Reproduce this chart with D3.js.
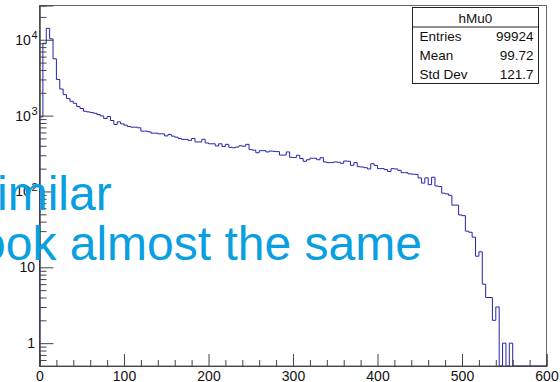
<!DOCTYPE html>
<html>
<head>
<meta charset="utf-8">
<script src="https://cdn.jsdelivr.net/npm/d3@7"></script>
<style>
  html, body { margin: 0; padding: 0; background: #fff; }
  svg { display: block; }
</style>
</head>
<body>
<script>
// Histogram hMu0: 150 bins of width 4 over [0, 600]
const binLow = 0;
const binHigh = 600;
const binWidth = 4;
const counts = [
  960, 9000, 14150, 10280, 5610, 3000, 2240, 1890, 1676, 1545,
  1455, 1316, 1240, 1142, 1119, 1097, 1074, 1032, 990, 916,
  973, 862, 765, 827, 778, 748, 719, 704, 704, 690,
  624, 624, 611, 587, 587, 575, 575, 540, 565, 537,
  520, 500, 486, 486, 471, 500, 450, 450, 488, 436,
  425, 425, 398, 425, 392, 418, 382, 377, 385, 400,
  395, 418, 356, 350, 324, 345, 345, 332, 341, 338,
  335, 302, 302, 332, 282, 280, 300, 272, 250, 262,
  274, 274, 262, 279, 245, 240, 240, 245, 243, 235,
  252, 250, 221, 240, 212, 210, 206, 198, 232, 221,
  200, 200, 194, 183, 200, 198, 190, 177, 177, 171,
  169, 168, 151, 129, 151, 123, 154, 118, 116, 95,
  93, 89, 66, 66, 49, 48, 30, 29, 25, 14,
  16, 6, 4, 4, 2, 3, 0, 1, 0, 1,
  0, 0, 0, 0, 0, 0, 0, 0, 0, 0
];

const xTickValues = [0, 100, 200, 300, 400, 500, 600];
const xMinorStep = 20;
const yTickValues = [1, 10, 100, 1000, 10000];
const yTickLabels = [["1", ""], ["10", ""], ["10", "2"], ["10", "3"], ["10", "4"]];

const statsTitle = "hMu0";
const statsLabels = ["Entries", "Mean", "Std Dev"];
const statsValues = ["99924", "99.72", "121.7"];

const noteLines = ["imilar", "ook almost the same"];

// ---- layout ----
const W = 560, H = 382;
const frame = { left: 39.5, right: 546.5, top: 5.5, bottom: 366 };

const svg = d3.select("body").append("svg")
  .attr("width", W).attr("height", H)
  .attr("viewBox", `0 0 ${W} ${H}`);

const x = d3.scaleLinear().domain([binLow, binHigh]).range([frame.left, frame.right]);
const yMin = 0.5;
const yMax = d3.max(counts) * 2;
const y = d3.scaleLog().domain([yMin, yMax]).range([frame.bottom, frame.top]);

const font = "'Liberation Sans', Arial, Helvetica, sans-serif";

// frame box
svg.append("rect")
  .attr("x", frame.left).attr("y", frame.top)
  .attr("width", frame.right - frame.left)
  .attr("height", frame.bottom - frame.top)
  .attr("fill", "none").attr("stroke", "#666").attr("stroke-width", 1);

// ---- histogram outline ----
const pts = [[x(binLow), y(yMin)]];
counts.forEach((c, i) => {
  const v = Math.max(c, yMin);
  const x0 = binLow + i * binWidth, x1 = x0 + binWidth;
  pts.push([x(x0), y(v)]);
  pts.push([x(x1), y(v)]);
});
pts.push([x(binHigh), y(yMin)]);

svg.append("path")
  .attr("d", d3.line()(pts))
  .attr("fill", "none")
  .attr("stroke", "#2424aa")
  .attr("stroke-width", 1);

// ---- x axis (ticks pointing into the frame) ----
const xMinor = d3.range(binLow, binHigh + 1, xMinorStep).filter(v => !xTickValues.includes(v));
const gxMinor = svg.append("g").attr("transform", `translate(0,${frame.bottom})`)
  .call(d3.axisBottom(x).tickValues(xMinor).tickSize(-6).tickFormat(""));
const gx = svg.append("g").attr("transform", `translate(0,${frame.bottom})`)
  .call(d3.axisBottom(x).tickValues(xTickValues).tickSize(-12).tickPadding(5).tickFormat(d3.format("d")));
[gx, gxMinor].forEach(g => {
  g.select(".domain").attr("stroke", "#444");
  g.selectAll(".tick line").attr("stroke", "#444");
});
gx.selectAll(".tick text")
  .attr("font-family", font).attr("font-size", 14).attr("fill", "#111");

// ---- y axis (log, ticks pointing into the frame) ----
const yMinor = [];
for (let e = -1; e <= 5; e++) {
  for (let m = 2; m <= 9; m++) {
    const v = m * Math.pow(10, e);
    if (v >= yMin && v <= yMax) yMinor.push(v);
  }
}
const gyMinor = svg.append("g").attr("transform", `translate(${frame.left},0)`)
  .call(d3.axisLeft(y).tickValues(yMinor).tickSize(-7).tickFormat(""));
const gy = svg.append("g").attr("transform", `translate(${frame.left},0)`)
  .call(d3.axisLeft(y).tickValues(yTickValues).tickSize(-14).tickFormat(""));
[gy, gyMinor].forEach(g => {
  g.select(".domain").attr("stroke", "#444");
  g.selectAll(".tick line").attr("stroke", "#444");
});

const yLab = svg.append("g").attr("font-family", font).attr("fill", "#111");
yTickValues.forEach((v, i) => {
  const [base, exp] = yTickLabels[i];
  const t = yLab.append("text")
    .attr("x", exp ? 37.5 : 35)
    .attr("y", y(v) + 5)
    .attr("text-anchor", "end")
    .attr("font-size", 14);
  t.append("tspan").text(base);
  if (exp) {
    t.append("tspan").attr("font-size", 11).attr("dy", -5.5).attr("dx", 0.5).text(exp);
  }
});

// ---- statistics box ----
const box = { x: 412.5, y: 7.5, w: 126, h: 76, titleH: 19.5 };
const gs = svg.append("g").attr("font-family", font).attr("fill", "#111");
gs.append("rect")
  .attr("x", box.x).attr("y", box.y).attr("width", box.w).attr("height", box.h)
  .attr("fill", "#fff").attr("stroke", "#222").attr("stroke-width", 1);
gs.append("line")
  .attr("x1", box.x).attr("x2", box.x + box.w)
  .attr("y1", box.y + box.titleH).attr("y2", box.y + box.titleH)
  .attr("stroke", "#222");
gs.append("text")
  .attr("x", box.x + box.w / 2).attr("y", box.y + 15)
  .attr("text-anchor", "middle").attr("font-size", 13.5)
  .text(statsTitle);
const rowH = (box.h - box.titleH) / statsLabels.length;
statsLabels.forEach((lab, i) => {
  const by = box.y + box.titleH + rowH * i + rowH / 2 + 5;
  gs.append("text").attr("x", box.x + 7).attr("y", by)
    .attr("font-size", 13.5).text(lab);
  gs.append("text").attr("x", box.x + box.w - 5).attr("y", by)
    .attr("text-anchor", "end").attr("font-size", 13.5).text(statsValues[i]);
});

// ---- annotation text over the plot ----
const note = svg.append("g").attr("font-family", font).attr("font-size", 48).attr("fill", "#0a9fe0");
note.append("text").attr("x", -3).attr("y", 210).text(noteLines[0]);
note.append("text").attr("x", -21).attr("y", 260).text(noteLines[1]);
</script>
</body>
</html>
